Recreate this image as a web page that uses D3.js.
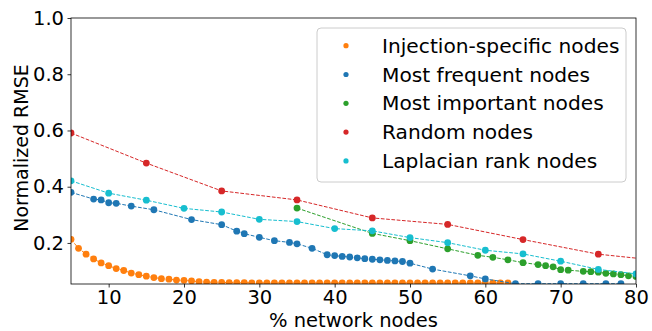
<!DOCTYPE html>
<html>
<head>
<meta charset="utf-8">
<script src="https://cdn.jsdelivr.net/npm/d3@7"></script>
<style>
  html, body { margin: 0; padding: 0; background: #fff; }
  svg { display: block; font-family: "DejaVu Sans", sans-serif; }
</style>
</head>
<body>
<svg id="chart" width="652" height="331"></svg>
<script>
// Normalized RMSE versus the share of network nodes used, per selection strategy
const injectionPct = [5, 6, 7, 8, 9, 10, 11, 12, 13, 14, 15, 16, 17, 18, 19, 20, 21, 22, 23, 24,
  25, 26, 27, 28, 29, 30, 31, 32, 33, 34, 35, 36, 37, 38, 39, 40, 41, 42, 43, 44,
  45, 46, 47, 48, 49, 50, 51, 52, 53, 54, 55, 56, 57, 58, 59, 60, 61, 62, 63];
const injectionRmse = [0.213, 0.181, 0.160, 0.143, 0.129, 0.119, 0.109, 0.102, 0.093, 0.087,
  0.082, 0.077, 0.073, 0.071, 0.068, 0.067, 0.065, 0.062, 0.061, 0.060,
  0.060, 0.059, 0.059, 0.059, 0.058, 0.058, 0.058, 0.058, 0.058, 0.058,
  0.058, 0.058, 0.058, 0.058, 0.058, 0.058, 0.058, 0.058, 0.058, 0.058,
  0.058, 0.058, 0.058, 0.058, 0.058, 0.058, 0.058, 0.058, 0.058, 0.058,
  0.058, 0.058, 0.058, 0.058, 0.058, 0.058, 0.058, 0.058, 0.058];

const frequentPct = [5, 8, 9, 10, 11, 13, 16, 21, 25, 27, 28, 30, 32, 34, 35, 37, 39, 40, 41, 42,
  43, 44, 45, 46, 47, 48, 49, 50, 53, 58, 60, 64, 67, 70, 73, 76, 78];
const frequentRmse = [0.380, 0.356, 0.353, 0.343, 0.341, 0.331, 0.318, 0.283, 0.265, 0.242,
  0.233, 0.220, 0.208, 0.202, 0.197, 0.181, 0.158, 0.155, 0.152, 0.150,
  0.147, 0.144, 0.142, 0.140, 0.138, 0.136, 0.134, 0.128, 0.107, 0.083,
  0.072, 0.055, 0.055, 0.055, 0.055, 0.055, 0.055];

const importantPct = [35, 45, 50, 55, 59, 61, 63, 65, 67, 68, 69, 70, 71, 73, 74, 75, 76, 77, 78, 79, 80];
const importantRmse = [0.324, 0.234, 0.208, 0.179, 0.156, 0.149, 0.140, 0.130, 0.123, 0.119,
  0.115, 0.105, 0.103, 0.099, 0.098, 0.096, 0.092, 0.090, 0.087, 0.083, 0.081];

const randomPct = [5, 15, 25, 35, 45, 55, 65, 75, 85];
const randomRmse = [0.591, 0.484, 0.385, 0.353, 0.289, 0.266, 0.212, 0.160, 0.132];

const laplacianPct = [5, 10, 15, 20, 25, 30, 35, 40, 45, 50, 55, 60, 65, 70, 75, 80];
const laplacianRmse = [0.421, 0.377, 0.352, 0.323, 0.310, 0.284, 0.276, 0.251, 0.243, 0.219,
  0.201, 0.174, 0.161, 0.135, 0.106, 0.090];

const seriesNames = ["Injection-specific nodes", "Most frequent nodes", "Most important nodes",
  "Random nodes", "Laplacian rank nodes"];
const seriesColors = ["#ff7f0e", "#1f77b4", "#2ca02c", "#d62728", "#17becf"];

const xTicks = [10, 20, 30, 40, 50, 60, 70, 80];
const yTicks = [0.2, 0.4, 0.6, 0.8, 1.0];
const xDomain = [5, 80];
const yDomain = [0.054, 1.0];

const series = [
  { pct: injectionPct, rmse: injectionRmse },
  { pct: frequentPct, rmse: frequentRmse },
  { pct: importantPct, rmse: importantRmse },
  { pct: randomPct, rmse: randomRmse },
  { pct: laplacianPct, rmse: laplacianRmse }
].map((s, i) => ({
  name: seriesNames[i],
  color: seriesColors[i],
  points: s.pct.map((p, j) => ({ x: p, y: s.rmse[j] }))
}));

const margin = { left: 71, right: 16, top: 18, bottom: 47 };
const W = 652, H = 331;
const iw = W - margin.left - margin.right;
const ih = H - margin.top - margin.bottom;

const svg = d3.select("#chart");
const x = d3.scaleLinear().domain(xDomain).range([0, iw]);
const y = d3.scaleLinear().domain(yDomain).range([ih, 0]);

svg.append("defs").append("clipPath").attr("id", "plotClip")
  .append("rect").attr("width", iw).attr("height", ih);

const g = svg.append("g").attr("transform", `translate(${margin.left},${margin.top})`);

const plot = g.append("g").attr("clip-path", "url(#plotClip)");

const line = d3.line().x(d => x(d.x)).y(d => y(d.y));

series.forEach(s => {
  plot.append("path")
    .datum(s.points)
    .attr("d", line)
    .attr("fill", "none")
    .attr("stroke", s.color)
    .attr("stroke-width", 1)
    .attr("stroke-dasharray", "3.7,1.6");
  plot.append("g").selectAll("circle")
    .data(s.points)
    .join("circle")
    .attr("cx", d => x(d.x))
    .attr("cy", d => y(d.y))
    .attr("r", 3.4)
    .attr("fill", s.color);
});

// Axes
const tickFont = 19.5;
const xAxis = g.append("g").attr("transform", `translate(0,${ih})`)
  .call(d3.axisBottom(x).tickValues(xTicks).tickSize(3.5).tickPadding(2.5).tickFormat(d3.format("d")));
const yAxis = g.append("g")
  .call(d3.axisLeft(y).tickValues(yTicks).tickSize(3.5).tickPadding(3.5).tickFormat(d3.format(".1f")));

[xAxis, yAxis].forEach(a => {
  a.select(".domain").remove();
  a.selectAll(".tick line").attr("stroke", "#000").attr("stroke-width", 0.8);
  a.selectAll(".tick text").attr("fill", "#000")
    .style("font-family", "'DejaVu Sans', sans-serif").style("font-size", tickFont + "px");
});

// Frame
g.append("rect").attr("width", iw).attr("height", ih)
  .attr("fill", "none").attr("stroke", "#000").attr("stroke-width", 0.8);

// Axis titles
g.append("text")
  .attr("x", iw / 2).attr("y", ih + 43)
  .attr("text-anchor", "middle")
  .style("font-size", "19.5px")
  .text("% network nodes");

g.append("text")
  .attr("transform", `translate(${-43},${ih / 2 - 3}) rotate(-90)`)
  .attr("text-anchor", "middle")
  .style("font-size", "19px")
  .text("Normalized RMSE");

// Legend
const legend = svg.append("g").attr("transform", "translate(317,28)");
legend.append("rect")
  .attr("width", 309).attr("height", 154)
  .attr("rx", 4).attr("ry", 4)
  .attr("fill", "#fff").attr("fill-opacity", 0.8)
  .attr("stroke", "#cccccc").attr("stroke-width", 1);

series.forEach((s, i) => {
  const row = legend.append("g").attr("transform", `translate(0,${17.7 + i * 28.8})`);
  row.append("circle").attr("cx", 29).attr("cy", 0).attr("r", 2.6).attr("fill", s.color);
  row.append("text").attr("x", 65).attr("y", 0).attr("dy", "0.35em")
    .style("font-size", "20.2px")
    .text(s.name);
});
</script>
</body>
</html>
